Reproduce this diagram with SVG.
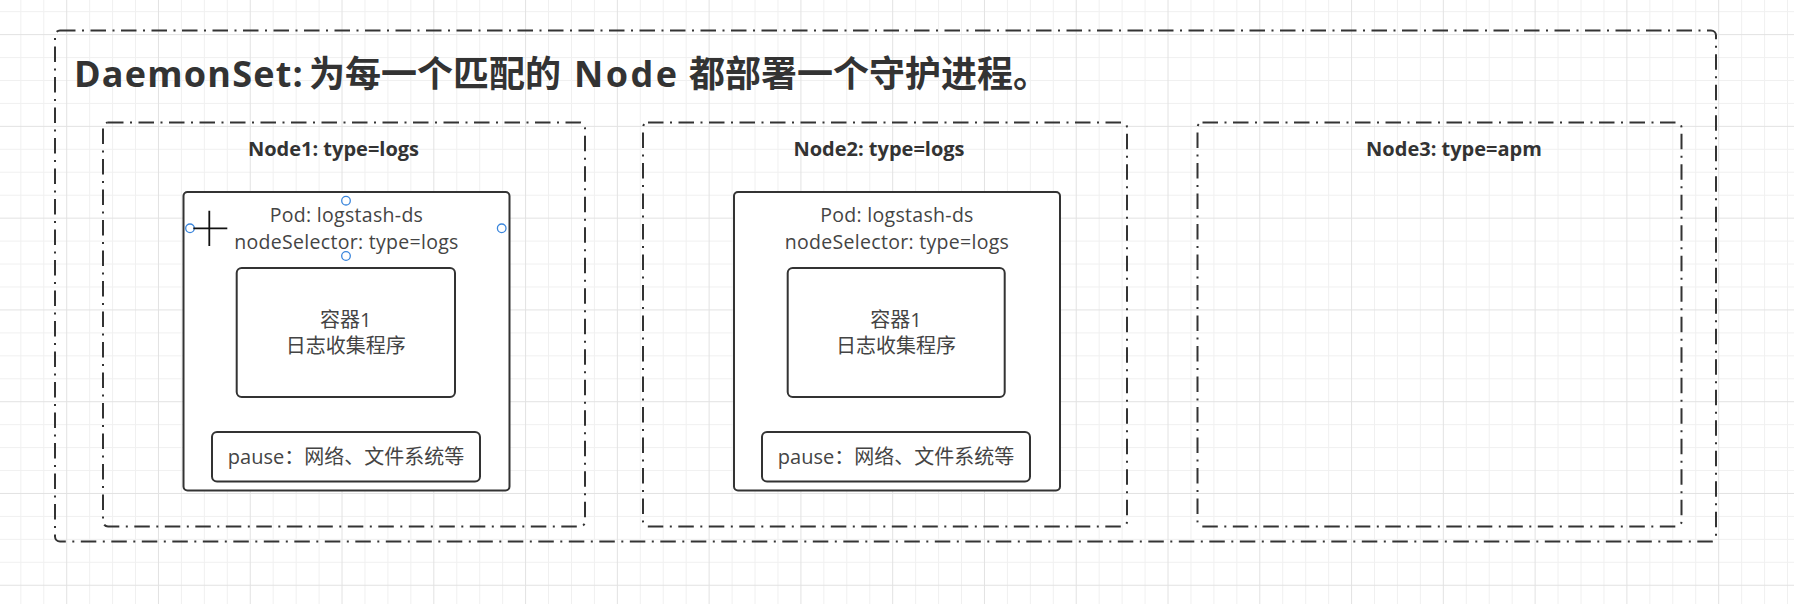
<svg xmlns="http://www.w3.org/2000/svg" width="1794" height="604" viewBox="0 0 1794 604">
  <defs>
    <pattern id="grid" x="66.2" y="34.1" width="91.776" height="91.776" patternUnits="userSpaceOnUse">
      <path d="M23.444 0V91.776M46.388 0V91.776M69.332 0V91.776M0 23.444H91.776M0 46.388H91.776M0 69.332H91.776" stroke="#f0f0f0" stroke-width="1" fill="none"/>
      <path d="M0.5 0V91.776M0 0.5H91.776" stroke="#e2e2e2" stroke-width="1" fill="none"/>
    </pattern>
    <style>
      .dash { fill: none; stroke: #333333; stroke-width: 2; stroke-dasharray: 15.5 6.5 2 6.5; }
      .box { fill: #ffffff; stroke: #333333; stroke-width: 2; }
      .title { font-family: "Open Sans", "Noto Sans CJK SC", sans-serif; font-weight: bold; font-size: 36px; fill: #333333; }
      .nlabel { font-family: "Open Sans", "Noto Sans CJK SC", sans-serif; font-weight: bold; font-size: 20px; fill: #333333; text-anchor: middle; }
      .txt { font-family: "Open Sans", "Noto Sans CJK SC", sans-serif; font-size: 19.5px; fill: #444444; text-anchor: middle; }
      .cjk { font-family: "Open Sans", "Noto Sans CJK SC", sans-serif; font-size: 20px; fill: #444444; text-anchor: middle; }
      .handle { fill: #ffffff; stroke: #3b86dc; stroke-width: 1.3; }
    </style>
  </defs>
  <rect x="0" y="0" width="1794" height="604" fill="#ffffff"/>
  <rect x="0" y="0" width="1794" height="604" fill="url(#grid)"/>

  <g id="daemonset">
    <rect class="dash" x="55" y="30.5" width="1661" height="511" rx="5"/>
    <text class="title" y="87"><tspan x="74" letter-spacing="1.2">DaemonSet:</tspan><tspan x="309">为每一个匹配的</tspan><tspan x="574" letter-spacing="2.5">Node</tspan><tspan x="689">都部署一个守护进程。</tspan></text>
  </g>

  <g id="node1">
    <rect class="dash" x="103" y="122.5" width="482" height="404" rx="5"/>
    <text class="nlabel" x="333.5" y="156">Node1: type=logs</text>
  </g>
  <g id="pod1">
    <rect class="box" x="183.5" y="192" width="326" height="298.5" rx="4"/>
    <text class="txt" x="346.5" y="222" letter-spacing="0.3">Pod: logstash-ds</text>
    <text class="txt" x="346.5" y="248.7" letter-spacing="0.3">nodeSelector: type=logs</text>
  </g>
  <g id="container1">
    <rect class="box" x="236.7" y="268" width="218.3" height="129" rx="5"/>
    <text class="cjk" x="345.8" y="326.7">容器1</text>
    <text class="cjk" x="345.8" y="352.7">日志收集程序</text>
  </g>
  <g id="pause1">
    <rect class="box" x="212" y="432" width="268" height="49.5" rx="5"/>
    <text class="cjk" x="346" y="464">pause：网络、文件系统等</text>
  </g>

  <g id="node2">
    <rect class="dash" x="643" y="122.5" width="484" height="404" rx="5"/>
    <text class="nlabel" x="879" y="156">Node2: type=logs</text>
  </g>
  <g id="pod2">
    <rect class="box" x="734" y="192" width="326" height="298.5" rx="4"/>
    <text class="txt" x="897" y="222" letter-spacing="0.3">Pod: logstash-ds</text>
    <text class="txt" x="897" y="248.7" letter-spacing="0.3">nodeSelector: type=logs</text>
  </g>
  <g id="container2">
    <rect class="box" x="787.7" y="268" width="217" height="129" rx="5"/>
    <text class="cjk" x="896" y="326.7">容器1</text>
    <text class="cjk" x="896" y="352.7">日志收集程序</text>
  </g>
  <g id="pause2">
    <rect class="box" x="762" y="432" width="268" height="49.5" rx="5"/>
    <text class="cjk" x="896" y="464">pause：网络、文件系统等</text>
  </g>

  <g id="node3">
    <rect class="dash" x="1197.5" y="122.5" width="484" height="404" rx="5"/>
    <text class="nlabel" x="1454" y="156">Node3: type=apm</text>
  </g>

  <g id="connectors"></g>

  <g id="selection">
    <circle class="handle" cx="346" cy="200.7" r="4.3"/>
    <circle class="handle" cx="190" cy="228.3" r="4.3"/>
    <circle class="handle" cx="501.7" cy="228.3" r="4.3"/>
    <circle class="handle" cx="346" cy="256" r="4.3"/>
    <path d="M209.3 210.7V246M193.3 228.3H227.3" stroke="#111111" stroke-width="1.8" fill="none"/>
  </g>
</svg>
